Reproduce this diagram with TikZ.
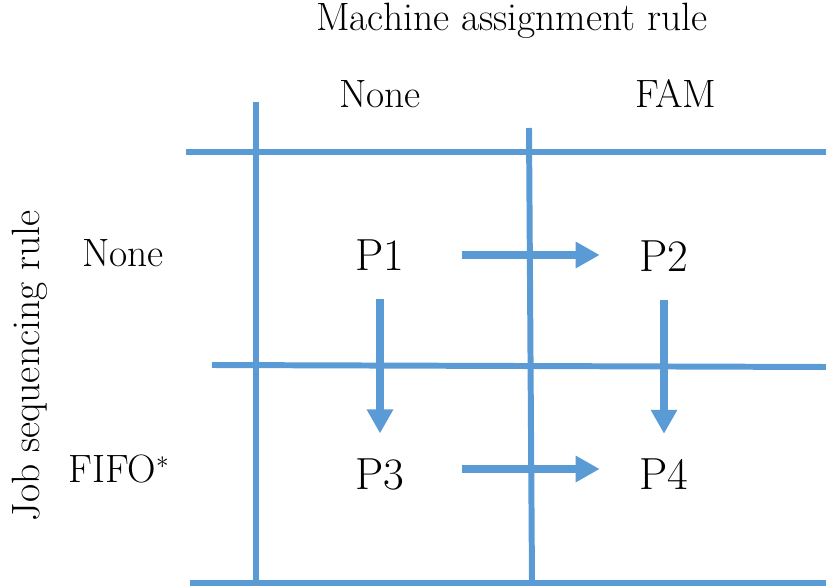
\documentclass[tikz,border=0pt]{standalone}
\usepackage{amsmath}
\usepackage{tikz}
\usetikzlibrary{arrows.meta}
\definecolor{gridblue}{RGB}{91,155,213}

\begin{document}
\begin{tikzpicture}[x=0.02cm, y=-0.02cm]
       \tikzstyle{gridline} = [line width=3.4pt, draw=gridblue]
       \tikzstyle{arrow} = [line width=4.5pt, draw=gridblue, -{Triangle[width=0.5cm,length=0.48cm]}]
       \tikzstyle{harrow} = [arrow, shorten <=1.15cm, shorten >=0.79cm]
       \tikzstyle{varrow} = [arrow, shorten <=0.57cm, shorten >=0.49cm]
       \tikzstyle{rulename} = [anchor=base, inner sep=0pt, font=\fontsize{22.5}{27}\selectfont]
       \tikzstyle{plan} = [inner sep=0pt, font=\fontsize{25.6}{30}\selectfont]
       \useasboundingbox (0,0) rectangle (826,588);

       % grid
       \draw [gridline] (256,102) -- (256,582);
       \draw [gridline] (529,128) -- (532,582);
       \draw [gridline] (186,152) -- (826,152);
       \draw [gridline] (212,365) -- (826,367);
       \draw [gridline] (190,583) -- (826,583);

       % headers
       \node (machine) [rulename] at (512,31) {Machine assignment rule};
       \node (col-none) [rulename] at (380,108) {None};
       \node (col-fam) [rulename] at (676,108) {FAM};
       \node (job) [rulename, rotate=90] at (39,366) {Job sequencing rule};
       \node (row-none) [rulename] at (123,267) {None};
       \node (row-fifo) [rulename] at (119,482) {FIFO$^*$};

       % plans
       \node (P1) [plan] at (380,255) {P1};
       \node (P2) [plan] at (664,256) {P2};
       \node (P3) [plan] at (380,474) {P3};
       \node (P4) [plan] at (664,474) {P4};

       \draw [harrow] (P1.east) -- (P1.east -| P2.west);
       \draw [harrow] ([yshift=0.1cm]P3.east) -- ([yshift=0.1cm]P4.west);
       \draw [varrow] (P1.south) -- (P3.north);
       \draw [varrow] (P2.south) -- (P4.north);
\end{tikzpicture}
\end{document}
